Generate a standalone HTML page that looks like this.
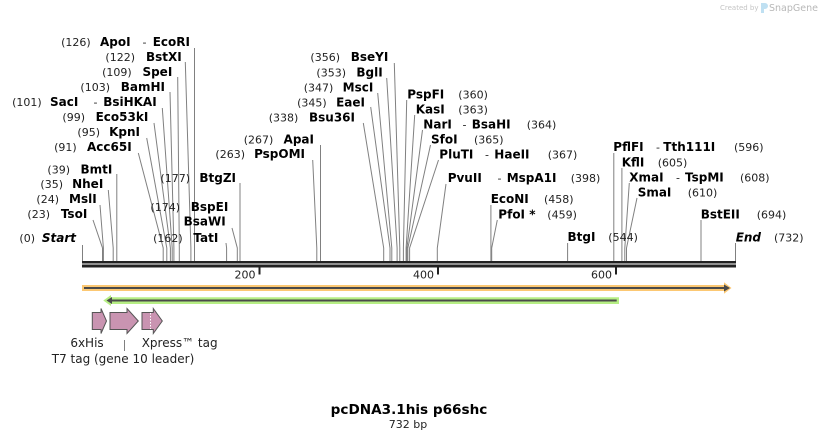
<!DOCTYPE html>
<html><head><meta charset="utf-8"><style>
html,body{margin:0;padding:0;background:#fff;}
svg{display:block;}
text{font-family:"DejaVu Sans","Liberation Sans",sans-serif;}
.n{font-size:11px;fill:#222;}
.b{font-size:12px;font-weight:bold;fill:#000;}
.bi{font-size:12px;font-weight:bold;font-style:italic;fill:#000;}
.f{font-size:12px;fill:#222;}
.l{stroke:#808080;stroke-width:1;fill:none;}
</style></head><body>
<svg width="818" height="440" viewBox="0 0 818 440" xmlns="http://www.w3.org/2000/svg">
<rect width="818" height="440" fill="#fff"/>
<!-- watermark -->
<text x="720" y="10" style="font-size:7px;fill:#c4c4c4">Created by</text>
<path d="M761 3 h4 a3 3 0 0 1 0 6 h-1 v4 h-3 z" fill="#bfe0f2"/>
<text x="769" y="11" style="font-size:9.5px;fill:#b8b8b8">SnapGene</text>

<!-- leader lines -->
<g class="l">
<path d="M194.5 48 V261"/>
<path d="M185.3 62 L190.9 248 V261"/>
<path d="M177.7 77 L179.3 248 V261"/>
<path d="M170 92 L173.9 248 V261"/>
<path d="M162.3 108 L172.2 248 V261"/>
<path d="M154 123 L170.4 248 V261"/>
<path d="M146.7 138 L166.8 248 V261"/>
<path d="M138.3 153 L163.2 248 V261"/>
<path d="M116.8 174 V261"/>
<path d="M108.3 190 L113.2 248 V261"/>
<path d="M100 205 L103.4 248 V261"/>
<path d="M93 220 L102.5 248 V261"/>
<path d="M82.5 245 V261"/>
<path d="M240 183 V261"/>
<path d="M232 228 L237.3 248 V261"/>
<path d="M226 243 L226.6 248 V261"/>
<path d="M394.3 63 L399.8 248 V261"/>
<path d="M386.7 78 L397.1 248 V261"/>
<path d="M377.7 93 L391.8 248 V261"/>
<path d="M370.7 107 L390 248 V261"/>
<path d="M363.3 123 L383.7 248 V261"/>
<path d="M320.5 145 V261"/>
<path d="M312.7 160 L316.8 248 V261"/>
<path d="M406.7 100 L403.4 248 V261"/>
<path d="M414.7 115 L406.1 248 V261"/>
<path d="M422.5 130 L406.9 248 V261"/>
<path d="M430.5 145 L407.8 248 V261"/>
<path d="M438.5 160 L409.6 248 V261"/>
<path d="M446 184 L437.3 248 V261"/>
<path d="M490.9 205 V261"/>
<path d="M497.3 220 L491.7 248 V261"/>
<path d="M567.6 243 V261"/>
<path d="M613.8 153 V261"/>
<path d="M621.9 168 V261"/>
<path d="M629.3 183 L624.8 248 V261"/>
<path d="M637 198 L626.5 248 V261"/>
<path d="M701 220 V261"/>
<path d="M735.5 243 V261"/>
</g>

<!-- left column labels -->
<text class="n" x="90.7" y="46" text-anchor="end">(126)</text>
<text class="b" x="100" y="46">ApoI</text>
<text class="n" x="142.5" y="46">-</text>
<text class="b" x="190" y="46" text-anchor="end">EcoRI</text>
<text class="n" x="135" y="61" text-anchor="end">(122)</text>
<text class="b" x="181.7" y="61" text-anchor="end">BstXI</text>
<text class="n" x="131.7" y="76" text-anchor="end">(109)</text>
<text class="b" x="172.3" y="76" text-anchor="end">SpeI</text>
<text class="n" x="110" y="91" text-anchor="end">(103)</text>
<text class="b" x="165" y="91" text-anchor="end">BamHI</text>
<text class="n" x="41.7" y="106" text-anchor="end">(101)</text>
<text class="b" x="78.3" y="106" text-anchor="end">SacI</text>
<text class="n" x="93.5" y="106">-</text>
<text class="b" x="156.7" y="106" text-anchor="end">BsiHKAI</text>
<text class="n" x="85" y="121" text-anchor="end">(99)</text>
<text class="b" x="148.3" y="121" text-anchor="end">Eco53kI</text>
<text class="n" x="100" y="136" text-anchor="end">(95)</text>
<text class="b" x="140" y="136" text-anchor="end">KpnI</text>
<text class="n" x="76.7" y="151" text-anchor="end">(91)</text>
<text class="b" x="131.7" y="151" text-anchor="end">Acc65I</text>

<text class="n" x="70" y="173.5" text-anchor="end">(39)</text>
<text class="b" x="112.3" y="173.5" text-anchor="end">BmtI</text>
<text class="n" x="63" y="188" text-anchor="end">(35)</text>
<text class="b" x="103.3" y="188" text-anchor="end">NheI</text>
<text class="n" x="59" y="203" text-anchor="end">(24)</text>
<text class="b" x="96.7" y="203" text-anchor="end">MslI</text>
<text class="n" x="50" y="218" text-anchor="end">(23)</text>
<text class="b" x="87.3" y="218" text-anchor="end">TsoI</text>
<text class="n" x="35" y="242" text-anchor="end">(0)</text>
<text class="bi" x="76" y="242" text-anchor="end">Start</text>

<text class="n" x="190" y="182" text-anchor="end">(177)</text>
<text class="b" x="236" y="182" text-anchor="end">BtgZI</text>
<text class="n" x="180" y="211" text-anchor="end">(174)</text>
<text class="b" x="228.3" y="211" text-anchor="end">BspEI</text>
<text class="b" x="225.7" y="225.5" text-anchor="end">BsaWI</text>
<text class="n" x="182.7" y="242" text-anchor="end">(162)</text>
<text class="b" x="218.3" y="242" text-anchor="end">TatI</text>

<!-- middle -->
<text class="n" x="340" y="61" text-anchor="end">(356)</text>
<text class="b" x="388.3" y="61" text-anchor="end">BseYI</text>
<text class="n" x="346" y="76.5" text-anchor="end">(353)</text>
<text class="b" x="382.7" y="76.5" text-anchor="end">BglI</text>
<text class="n" x="333.3" y="91.5" text-anchor="end">(347)</text>
<text class="b" x="373.3" y="91.5" text-anchor="end">MscI</text>
<text class="n" x="326.7" y="106.5" text-anchor="end">(345)</text>
<text class="b" x="365" y="106.5" text-anchor="end">EaeI</text>
<text class="n" x="298.3" y="121.5" text-anchor="end">(338)</text>
<text class="b" x="355" y="121.5" text-anchor="end">Bsu36I</text>
<text class="n" x="273.3" y="143.5" text-anchor="end">(267)</text>
<text class="b" x="314" y="143.5" text-anchor="end">ApaI</text>
<text class="n" x="245" y="158" text-anchor="end">(263)</text>
<text class="b" x="305" y="158" text-anchor="end">PspOMI</text>

<!-- right column -->
<text class="b" x="407.3" y="98.5">PspFI</text>
<text class="n" x="458.3" y="98.5">(360)</text>
<text class="b" x="415.7" y="113.5">KasI</text>
<text class="n" x="458.3" y="113.5">(363)</text>
<text class="b" x="423.3" y="128.5">NarI</text>
<text class="n" x="462.5" y="128.5">-</text>
<text class="b" x="471.7" y="128.5">BsaHI</text>
<text class="n" x="526.7" y="128.5">(364)</text>
<text class="b" x="431" y="143.5">SfoI</text>
<text class="n" x="474" y="143.5">(365)</text>
<text class="b" x="439.3" y="158.5">PluTI</text>
<text class="n" x="485" y="158.5">-</text>
<text class="b" x="494.3" y="158.5">HaeII</text>
<text class="n" x="547.7" y="158.5">(367)</text>
<text class="b" x="447.7" y="182">PvuII</text>
<text class="n" x="497.5" y="182">-</text>
<text class="b" x="506.7" y="182">MspA1I</text>
<text class="n" x="570.7" y="182">(398)</text>
<text class="b" x="490.7" y="203">EcoNI</text>
<text class="n" x="544" y="203">(458)</text>
<text class="b" x="498.3" y="218.5">PfoI *</text>
<text class="n" x="547.3" y="218.5">(459)</text>
<text class="b" x="567.5" y="241">BtgI</text>
<text class="n" x="608.3" y="241">(544)</text>

<text class="b" x="613.3" y="151">PflFI</text>
<text class="n" x="656" y="151">-</text>
<text class="b" x="663.3" y="151">Tth111I</text>
<text class="n" x="734" y="151">(596)</text>
<text class="b" x="621.7" y="166.5">KflI</text>
<text class="n" x="657.7" y="166.5">(605)</text>
<text class="b" x="629.3" y="181.5">XmaI</text>
<text class="n" x="676" y="181.5">-</text>
<text class="b" x="685" y="181.5">TspMI</text>
<text class="n" x="740" y="181.5">(608)</text>
<text class="b" x="637.7" y="196.5">SmaI</text>
<text class="n" x="687.7" y="196.5">(610)</text>
<text class="b" x="700.7" y="218.5">BstEII</text>
<text class="n" x="756.7" y="218.5">(694)</text>
<text class="bi" x="735.7" y="241.5">End</text>
<text class="n" x="774" y="241.5">(732)</text>

<!-- backbone -->
<rect x="82" y="261" width="654" height="2.5" fill="#222"/>
<rect x="82" y="264.5" width="654" height="3" fill="#222"/>
<!-- ticks -->
<rect x="258.5" y="266.5" width="2" height="8" fill="#222"/>
<rect x="437" y="266.5" width="2" height="8" fill="#222"/>
<rect x="615" y="266.5" width="2" height="8" fill="#222"/>
<text class="n" x="255.5" y="278.5" text-anchor="end">200</text>
<text class="n" x="434" y="278.5" text-anchor="end">400</text>
<text class="n" x="612" y="278.5" text-anchor="end">600</text>

<!-- orange feature -->
<path d="M82 285 H724 V282.3 L731.5 288 L724 293.7 V291 H82 Z" fill="#fcc873"/>
<rect x="84" y="287" width="641" height="2" fill="#4a4a4a"/>
<path d="M724 284.5 L730 288 L724 291.5 Z" fill="#4a4a4a"/>

<!-- green feature -->
<path d="M103.3 300.5 L111 295 V297.3 H619 V304 H111 V306 Z" fill="#b6ee84"/>
<rect x="111" y="299.5" width="505.7" height="2" fill="#4a4a4a"/>
<path d="M106.5 300.5 L112 297 L112 304 Z" fill="#4a4a4a"/>

<!-- small features -->
<g fill="#c994b1" stroke="#555" stroke-width="1">
<path d="M92.3 312.5 H101 V308.5 L106.5 321 L101 333.5 V329.5 H92.3 Z"/>
<path d="M110 312.5 H127 V308.5 L138.3 321 L127 333.5 V329.5 H110 Z"/>
<path d="M142 312.5 H153.3 V308.5 L162.3 321 L153.3 333.5 V329.5 H142 Z"/>
</g>
<line x1="150.5" y1="313" x2="150.5" y2="329" stroke="#fff" stroke-width="1" stroke-dasharray="1.5,1.5"/>
<line x1="124.5" y1="340" x2="124.5" y2="351" stroke="#808080" stroke-width="1"/>
<text class="f" x="87" y="347" text-anchor="middle">6xHis</text>
<text class="f" x="141.7" y="347">Xpress™ tag</text>
<text class="f" x="123" y="363" text-anchor="middle">T7 tag (gene 10 leader)</text>

<!-- title -->
<text x="409" y="414" text-anchor="middle" style="font-size:13.6px;font-weight:bold;fill:#000">pcDNA3.1his p66shc</text>
<text x="408" y="428" text-anchor="middle" style="font-size:11px;fill:#222">732 bp</text>
</svg>
</body></html>
